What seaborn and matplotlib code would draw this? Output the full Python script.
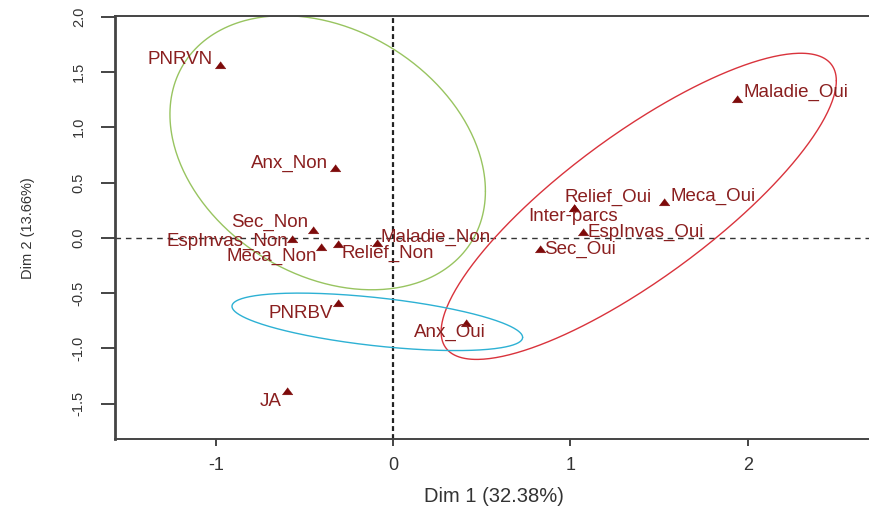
import numpy as np
import pandas as pd
import matplotlib
matplotlib.use("Agg")
import matplotlib.pyplot as plt
import seaborn as sns

# MCA category coordinates on the first two dimensions
categories = ["PNRVN", "Anx_Non", "Sec_Non", "EspInvas_Non", "Meca_Non",
              "Relief_Non", "Maladie_Non", "Maladie_Oui", "Relief_Oui",
              "Inter-parcs", "Meca_Oui", "EspInvas_Oui", "Sec_Oui",
              "Anx_Oui", "PNRBV", "JA"]
dim1 = [-0.98, -0.33, -0.45, -0.57, -0.41, -0.31, -0.09, 1.94, 1.02,
        1.02, 1.53, 1.07, 0.83, 0.41, -0.31, -0.60]
dim2 = [1.56, 0.63, 0.07, -0.01, -0.08, -0.06, -0.05, 1.26, 0.27,
        0.27, 0.32, 0.05, -0.10, -0.77, -0.59, -1.39]

# confidence ellipses: centre, spread along each axis, correlation
ell_cx = [-0.37, 1.385, -0.09]
ell_cy = [0.77, 0.285, -0.76]
ell_sx = [0.89, 1.115, 0.82]
ell_sy = [1.24, 1.385, 0.26]
ell_rho = [-0.28, 0.82, -0.54]
ell_colors = ["#98c460", "#d9333c", "#2db1d4"]

xlabel = "Dim 1 (32.38%)"
ylabel = "Dim 2 (13.66%)"
xticks = [-1, 0, 1, 2]
yticks = [-1.5, -1.0, -0.5, 0.0, 0.5, 1.0, 1.5, 2.0]

# label placement around each marker (pixels, horizontal alignment)
label_style = {
    "PNRVN": (-7, 6, "right"),
    "Anx_Non": (-7, 5, "right"),
    "Sec_Non": (-5, 8, "right"),
    "EspInvas_Non": (-4, -2, "right"),
    "Meca_Non": (-4, -10, "right"),
    "Relief_Non": (3, -9, "left"),
    "Maladie_Non": (3, 6, "left"),
    "Maladie_Oui": (6, 6, "left"),
    "Relief_Oui": (34, 11, "center"),
    "Inter-parcs": (-1, -9, "center"),
    "Meca_Oui": (6, 6, "left"),
    "EspInvas_Oui": (5, 0, "left"),
    "Sec_Oui": (4, -1, "left"),
    "Anx_Oui": (-16, -9, "center"),
    "PNRBV": (-5, -10, "right"),
    "JA": (-5, -10, "right"),
}

df = pd.DataFrame({"cat": categories, "dim1": dim1, "dim2": dim2})

sns.set_style("white")
plt.rcParams["font.family"] = ["Liberation Sans", "DejaVu Sans"]

fig = plt.figure(figsize=(8.69, 5.13), dpi=100)
ax = fig.add_axes([115 / 869, 74 / 513, 755 / 869, 423 / 513])

ax.set_xlim(-1.57, 2.69)
ax.set_ylim(-1.82, 2.007)

# reference lines through the origin
ax.axhline(0, color="#333333", lw=1.0, ls=(0, (4, 3.5)), zorder=1)
ax.axvline(0, color="#222222", lw=1.6, ls=(0, (2.2, 1.4)), zorder=1)

# ellipses
t = np.linspace(0, 2 * np.pi, 400)
for cx, cy, sx, sy, rho, col in zip(ell_cx, ell_cy, ell_sx, ell_sy, ell_rho, ell_colors):
    ex = cx + sx * np.cos(t)
    ey = cy + sy * (rho * np.cos(t) + np.sqrt(1 - rho ** 2) * np.sin(t))
    ax.plot(ex, ey, color=col, lw=1.0, zorder=2)

tri = [(-1.0, -0.62), (1.0, -0.62), (0.0, 0.72)]
sns.scatterplot(data=df, x="dim1", y="dim2", ax=ax, marker=tri, s=60,
                color="#7d0a0a", edgecolor="#7d0a0a", linewidth=0.3,
                legend=False, zorder=4)

for c, x, y in zip(categories, dim1, dim2):
    dx, dy, ha = label_style[c]
    ax.annotate(c, (x, y), xytext=(dx, dy), textcoords="offset pixels",
                ha=ha, va="center", fontsize=13.5, color="#8a1f1f", zorder=5)

# box in the base-graphics style
for side in ["left", "top", "bottom"]:
    ax.spines[side].set_visible(True)
    ax.spines[side].set_color("#444444")
    ax.spines[side].set_linewidth(1.4)
ax.spines["right"].set_visible(False)
ax.spines["left"].set_linewidth(2.0)

ax.set_xticks(xticks)
ax.set_xticklabels([str(v) for v in xticks])
ax.set_yticks(yticks)
ax.set_yticklabels([f"{v:.1f}" for v in yticks], rotation=90, va="center")
ax.tick_params(axis="x", direction="out", length=5, width=1.4, color="#444444",
               pad=8, labelsize=13, labelcolor="#333333", bottom=True)
ax.tick_params(axis="y", direction="out", length=10, width=1.4, color="#444444",
               pad=11, labelsize=10.5, labelcolor="#333333", left=True)

ax.set_xlabel(xlabel, fontsize=14.5, color="#333333")
ax.xaxis.set_label_coords(0.502, -0.135)
ax.xaxis.label.set_va("center")
ax.set_ylabel(ylabel, fontsize=10.5, color="#333333")
ax.yaxis.set_label_coords(-0.115, 0.499)
ax.yaxis.label.set_va("center")

fig.savefig("out.png", dpi=100, facecolor="white")
